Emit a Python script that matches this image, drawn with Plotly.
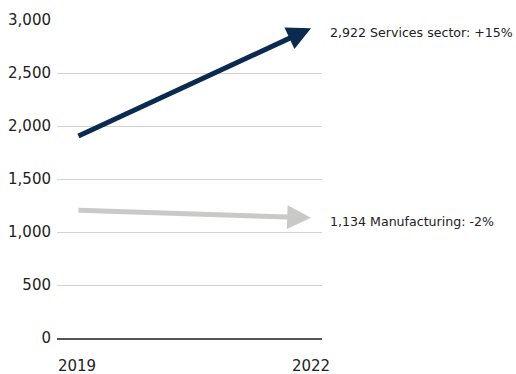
import plotly.graph_objects as go

years = [2019, 2022]
series_names = ["Services sector", "Manufacturing"]
services = [1900, 2922]
manufacturing = [1205, 1134]
changes = ["+15%", "-2%"]
colors = ["#0b2a4f", "#c9c9c5"]
y_ticks = [0, 500, 1000, 1500, 2000, 2500, 3000]

fig = go.Figure()
# invisible trace to establish axes
fig.add_trace(go.Scatter(x=years, y=services, mode="lines", line=dict(width=0), hoverinfo="skip", showlegend=False))

font = "'DejaVu Sans', sans-serif"
annotations = []
for name, vals, chg, col in zip(series_names, [services, manufacturing], changes, colors):
    annotations.append(dict(
        x=years[1], y=vals[1], ax=years[0], ay=vals[0],
        xref="x", yref="y", axref="x", ayref="y",
        showarrow=True, arrowhead=2, arrowsize=0.95, arrowwidth=5,
        arrowcolor=col, standoff=0, startstandoff=0, text=""))
    annotations.append(dict(
        x=years[1], y=vals[1], xref="x", yref="y",
        text=f"{vals[1]:,} {name}: {chg}", showarrow=False,
        xanchor="left", yanchor="middle", xshift=17, yshift=-4,
        font=dict(family=font, size=12.6, color="#222")))

fig.update_layout(
    width=516, height=374,
    margin=dict(l=57, r=194, t=20, b=36),
    plot_bgcolor="white", paper_bgcolor="white",
    showlegend=False,
    annotations=annotations,
    xaxis=dict(range=[2018.744, 2022.141], tickvals=years, ticktext=[str(y) for y in years],
               showgrid=False, zeroline=False, showline=True, linecolor="#555", linewidth=1.5,
               ticks="", ticklabelstandoff=13, automargin=False,
               tickfont=dict(family=font, size=15, color="#222")),
    yaxis=dict(range=[0, 3000], tickvals=y_ticks, tickformat=",",
               showgrid=True, gridcolor="#d3d3cf", gridwidth=1, zeroline=False,
               ticks="", ticklabelstandoff=5, showline=False, automargin=False,
               tickfont=dict(family=font, size=15, color="#222")),
)

fig.write_html("out.html")
